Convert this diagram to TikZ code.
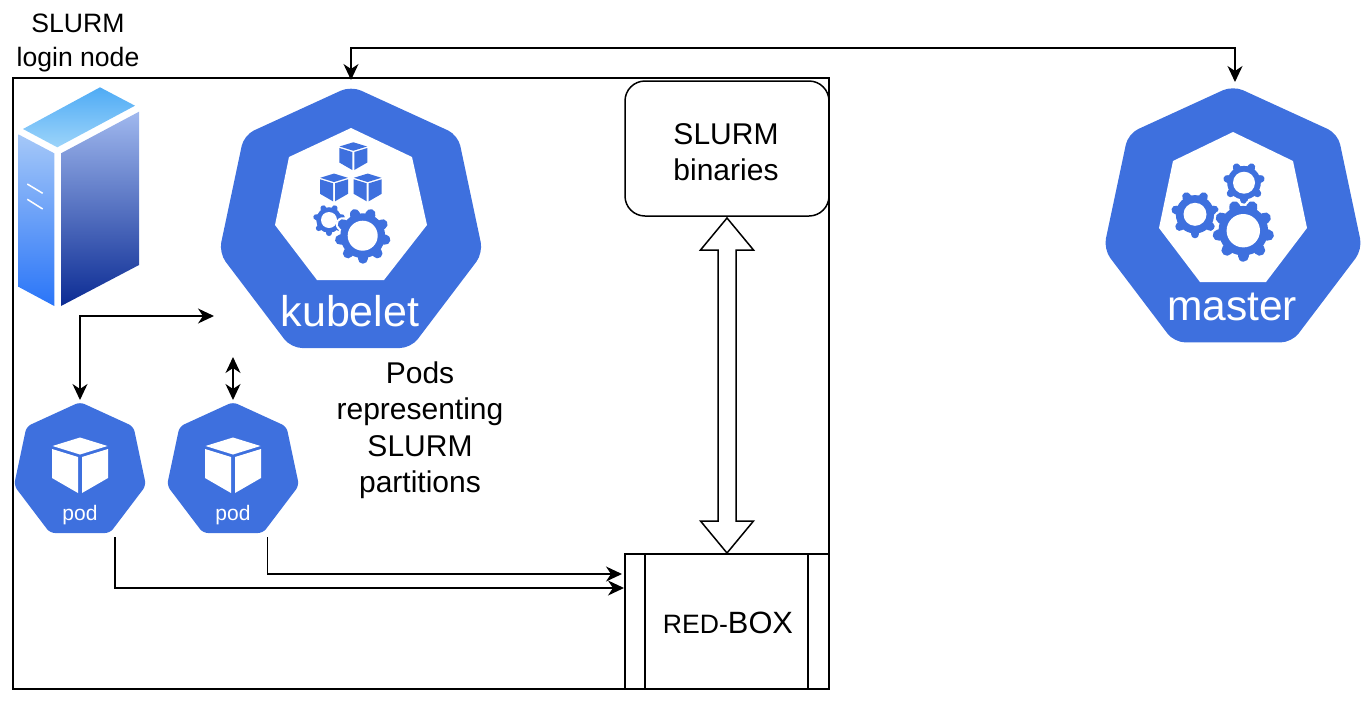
\documentclass[tikz,border=0pt]{standalone}
\usepackage{fontspec}
\setmainfont{Liberation Sans}
\usetikzlibrary{arrows.meta}
\definecolor{kubeblue}{HTML}{3E70DE}
\tikzset{
  link/.style={line width=1.5pt, line join=miter, -{Stealth[length=16pt,width=15pt,inset=5pt]}},
  biglink/.style={link, {Stealth[length=16pt,width=15pt,inset=5pt]}-{Stealth[length=16pt,width=15pt,inset=5pt]}},
  anchorbox/.style={rectangle, inner sep=0pt, outer sep=0pt},
  box/.style={rectangle, draw, line width=1.5pt, inner sep=0pt, outer sep=0pt, align=center},
  lbl/.style={align=center, inner sep=0pt, font=\fontsize{30}{36.5}\selectfont},
  kubetext/.style={text=white, inner sep=0pt},
  pics/hepta/.style={code={
    \fill[kubeblue, rounded corners=#1] (0,-132) -- (107,-83) -- (132,35) -- (60,130) -- (-60,130) -- (-132,35) -- (-107,-83) -- cycle;
  }},
  pics/cube/.style={code={
    \fill[#1] (-27.5,-19) -- (0,-27.5) -- (27.5,-19) -- (0,-10.5) -- cycle;
    \fill[#1] (-28,-16) -- (-2,-8) -- (-2,28) -- (-28,13) -- cycle;
    \fill[#1] (28,-16) -- (2,-8) -- (2,28) -- (28,13) -- cycle;
  }},
  pics/gear/.style n args={4}{code={
    \fill[white] (0,0) circle ({#1*0.8+#4});
    \foreach \k in {1,...,#3}
      \draw[white, line cap=round, line width={#1*0.36pt+2*#4 pt}, rotate=\k*360/#3] (0,0) -- (0,{#1*0.82});
    \fill[kubeblue] (0,0) circle ({#1*0.8});
    \foreach \k in {1,...,#3}
      \draw[kubeblue, line cap=round, line width={#1*0.36pt}, rotate=\k*360/#3] (0,0) -- (0,{#1*0.82});
    \fill[white] (0,0) circle (#2);
  }},
}
\begin{document}
\begin{tikzpicture}[x=1pt, y=-1pt]
  \useasboundingbox (0,0) rectangle (1366,702);

  % Outer box
  \node[box, minimum width=816pt, minimum height=611pt] (loginbox) at (421,383.5) {};
  \node[lbl, font=\fontsize{26.6}{34}\selectfont] (loginlabel) at (78,43) {SLURM\\login node};

  % Server
  \shade[top color={rgb,255:red,79;green,171;blue,245}, bottom color={rgb,255:red,156;green,212;blue,250}] (23,129) -- (100,87.3) -- (135,105.7) -- (57.3,147.3) -- cycle;
  \shade[top color={rgb,255:red,165;green,200;blue,248}, bottom color={rgb,255:red,42;green,117;blue,248}] (18.3,134.3) -- (54.3,153.3) -- (54.3,306) -- (18.3,286.7) -- cycle;
  \shade[top color={rgb,255:red,160;green,184;blue,238}, bottom color={rgb,255:red,12;green,44;blue,148}] (61,153.3) -- (139,111.7) -- (139,265) -- (61,306) -- cycle;
  \draw[white, line width=1.5pt] (27.3,184) -- (42.7,193.3);
  \draw[white, line width=1.5pt] (27.3,199.3) -- (42.7,209);

  % Kubelet
  \node[anchorbox, minimum width=257pt, minimum height=276pt] (kubelet) at (351,218) {};
  \pic at (351,218) {hepta=11pt};
  \fill[white] (351,128) -- (412,157) -- (427,225) -- (384,280) -- (317,280) -- (275,225) -- (289,157) -- cycle;
  \pic[scale=0.5] at (353.3,156) {cube=kubeblue};
  \pic[scale=0.5] at (334,187.3) {cube=kubeblue};
  \pic[scale=0.5] at (367.7,187.3) {cube=kubeblue};
  \pic at (329,220) {gear={16}{8}{7}{0}};
  \pic at (362.7,235.7) {gear={28}{15}{9}{2}};
  \node[kubetext, font=\fontsize{43}{43}\selectfont] (kubeletlabel) at (350,311) {kubelet};

  % Master
  \node[anchorbox, minimum width=252pt, minimum height=264pt] (master) at (1235,214) {};
  \pic[scale=0.98] at (1233,215) {hepta=11pt};
  \fill[white] (1233,132) -- (1293,161) -- (1307,228) -- (1266,282) -- (1200,282) -- (1159,228) -- (1173,161) -- cycle;
  \pic at (1195,214.3) {gear={24}{11.5}{7}{0}};
  \pic at (1244,182.7) {gear={21}{11}{7}{0}};
  \pic at (1243.3,230.7) {gear={31}{16.7}{9}{2}};
  \node[kubetext, font=\fontsize{42.5}{43}\selectfont] (masterlabel) at (1232,307) {master};

  % Pods
  \node[anchorbox, minimum width=128pt, minimum height=134pt] (podleft) at (80,467) {};
  \pic[scale=0.5] at (80,468) {hepta=5pt};
  \pic at (80,465) {cube=white};
  \node[kubetext, font=\fontsize{21}{21}\selectfont] (podleftlabel) at (80,515) {pod};

  \node[anchorbox, minimum width=128pt, minimum height=134pt] (podright) at (233,467) {};
  \pic[scale=0.5] at (233,468) {hepta=5pt};
  \pic at (233,465) {cube=white};
  \node[kubetext, font=\fontsize{21}{21}\selectfont] (podrightlabel) at (233,515) {pod};

  \node[lbl] (podslabel) at (420,430) {Pods\\representing\\SLURM\\partitions};

  % Right side boxes
  \node[box, rounded corners=20pt, minimum width=204pt, minimum height=135pt] (binaries) at (727,148.5) {};
  \node[lbl] (binarieslabel) at (726,152) {SLURM\\binaries};
  \node[box, minimum width=204pt, minimum height=135pt] (redbox) at (727,621.5) {};
  \draw[line width=1.5pt] ([xshift=20pt]redbox.north west) -- ([xshift=20pt]redbox.south west);
  \draw[line width=1.5pt] ([xshift=-21pt]redbox.north east) -- ([xshift=-21pt]redbox.south east);
  \node[inner sep=0pt, anchor=base] (redboxlabel) at (728,633) {\fontsize{26.6}{30}\selectfont RED-\fontsize{30.8}{30}\selectfont BOX};

  % Connectors
  \coordinate (kubeleft) at (214,316);
  \coordinate (kubelow) at (233,357);
  \coordinate (podleftout) at (115,537);
  \coordinate (podrightout) at (267.5,537);
  \coordinate (redboxinlow) at (624,588);
  \coordinate (redboxinhigh) at (622,574);

  \draw[biglink] (kubelet.north) -- ++(0,-32) -| (master.north);
  \draw[biglink] (kubeleft) -| (podleft.north);
  \draw[biglink] (kubelow) -- (podright.north);
  \draw[link] (podleftout) |- (redboxinlow);
  \draw[link] (podrightout) |- (redboxinhigh);

  % Hollow double arrow
  \draw[line width=1.5pt, line join=miter] ([yshift=-2pt]binaries.south) -- ++(26.5,32) -- ++(-17.5,0) -- ++(0,271) -- ++(17.5,0) -- ([yshift=1pt]redbox.north) -- ++(-26.5,-32) -- ++(17.5,0) -- ++(0,-271) -- ++(-17.5,0) -- cycle;
\end{tikzpicture}
\end{document}
